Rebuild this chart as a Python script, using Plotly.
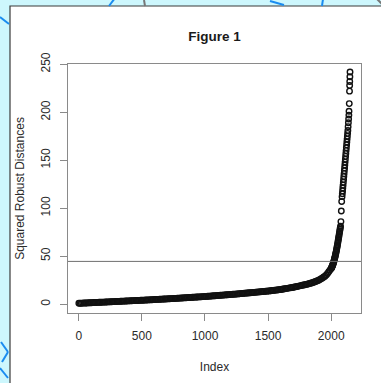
import plotly.graph_objects as go

# ---- data ----
body_index = list(range(1, 2000, 10))
body_values = [
    0.80, 0.87, 0.93, 1.00, 1.06, 1.12, 1.19, 1.25, 1.32, 1.38, 1.44, 1.51, 1.57, 1.63, 1.70, 1.76, 1.83, 1.89, 1.95, 2.02, 2.08, 2.14, 2.21, 2.27, 2.34,
    2.40, 2.46, 2.53, 2.59, 2.66, 2.72, 2.78, 2.85, 2.91, 2.98, 3.04, 3.10, 3.17, 3.23, 3.30, 3.36, 3.42, 3.49, 3.55, 3.62, 3.68, 3.74, 3.81, 3.87, 3.94,
    4.00, 4.07, 4.14, 4.22, 4.29, 4.36, 4.43, 4.50, 4.58, 4.65, 4.72, 4.79, 4.86, 4.94, 5.01, 5.08, 5.15, 5.22, 5.30, 5.37, 5.44, 5.51, 5.58, 5.66, 5.73,
    5.80, 5.88, 5.97, 6.05, 6.14, 6.22, 6.30, 6.39, 6.47, 6.56, 6.64, 6.72, 6.81, 6.89, 6.98, 7.06, 7.14, 7.23, 7.31, 7.40, 7.48, 7.56, 7.65, 7.73, 7.82,
    7.90, 8.00, 8.11, 8.21, 8.32, 8.42, 8.52, 8.63, 8.73, 8.84, 8.94, 9.04, 9.15, 9.25, 9.36, 9.46, 9.56, 9.67, 9.77, 9.88, 9.98, 10.08, 10.19, 10.29, 10.40,
    10.50, 10.62, 10.75, 10.87, 11.00, 11.12, 11.24, 11.37, 11.49, 11.62, 11.74, 11.86, 11.99, 12.11, 12.24, 12.36, 12.48, 12.61, 12.73, 12.86, 12.98, 13.10, 13.23, 13.35, 13.48,
    13.60, 13.76, 13.92, 14.08, 14.24, 14.40, 14.56, 14.72, 14.88, 15.04,
    15.20, 15.44, 15.68, 15.92, 16.16, 16.40, 16.64, 16.88, 17.12, 17.36,
    17.60, 17.88, 18.16, 18.44, 18.72, 19.00, 19.28, 19.56, 19.84, 20.12,
    20.40, 20.78, 21.16, 21.54, 21.92,
    22.30, 22.80, 23.30, 23.80, 24.30,
    24.80, 25.60, 26.50, 27.30, 28.20,
    29.00, 30.40, 32.00, 33.80, 35.60,
]

tail_index = [
    2000, 2002, 2004, 2006, 2008, 2010, 2012, 2014, 2016, 2018, 2020, 2022, 2024, 2026, 2028, 2030,
    2032, 2034, 2036, 2038, 2040, 2042, 2044, 2046, 2048, 2050, 2052, 2054, 2056, 2058, 2060, 2062,
    2064, 2066, 2068, 2070, 2072, 2074, 2077, 2080, 2083,
    2086, 2088, 2090, 2092, 2094, 2096, 2098, 2100, 2102, 2104, 2106, 2108, 2110, 2112, 2114, 2116,
    2118, 2120, 2122, 2124, 2126, 2128, 2130, 2132, 2134, 2136, 2138, 2140, 2141,
    2143, 2145, 2146, 2147, 2148, 2149,
]
tail_values = [
    37.0, 37.6, 38.2, 38.8, 39.4, 40.0, 40.8, 41.6, 42.4, 43.2, 44.0, 45.0, 46.0, 47.0, 48.0, 49.0,
    50.2, 51.4, 52.6, 53.8, 55.0, 56.4, 57.8, 59.2, 60.6, 62.0, 63.6, 65.2, 66.8, 68.4, 70.0, 71.6,
    73.2, 74.8, 76.4, 78.0, 79.6, 81.2, 86.0, 97.0, 107.0,
    112, 115, 118, 121, 124, 127, 130, 133, 136, 139, 142, 145, 148, 151, 154, 157,
    160, 163, 166, 169, 172, 175, 178, 181, 185, 189, 193, 197, 201,
    209, 222, 228, 232, 237, 242,
]

cutoff = 44.5
x_ticks = [0, 500, 1000, 1500, 2000]
y_ticks = [0, 50, 100, 150, 200, 250]

# ---- layout helpers (pixel -> paper) ----
W, H = 381, 383
L, R, T, B = 68, 361, 64, 313


def px(x):
    return (x - L) / (R - L)


def py(y):
    return (B - y) / (B - T)


fig = go.Figure()
fig.add_trace(go.Scatter(
    x=body_index + tail_index,
    y=body_values + tail_values,
    mode="markers",
    marker=dict(symbol="circle-open", size=5.5, color="#111111", line=dict(width=1.4)),
    hoverinfo="x+y",
    showlegend=False,
))

shapes = []
# white panel of the screenshot
shapes.append(dict(type="rect", xref="paper", yref="paper",
                   x0=px(10), x1=px(384), y0=py(386), y1=py(6),
                   fillcolor="white", line=dict(color="#3a3a3a", width=1.2), layer="below"))
# decorative strokes in the background
for (x0, y0, x1, y1) in [(0, 17, 9, 24), (109, 6, 115, -2), (270, 1, 284, 5), (323, -1, 322, 6),
                         (1, 342, 8, 352), (8, 352, 2, 362), (0, 368, 8, 378)]:
    shapes.append(dict(type="line", xref="paper", yref="paper",
                       x0=px(x0), y0=py(y0), x1=px(x1), y1=py(y1),
                       line=dict(color="#1a8cf0", width=2), layer="below"))
for (x0, y0, x1, y1) in [(144, 0, 145, 6), (377, -1, 382, 4)]:
    shapes.append(dict(type="line", xref="paper", yref="paper",
                       x0=px(x0), y0=py(y0), x1=px(x1), y1=py(y1),
                       line=dict(color="#777777", width=2), layer="below"))
# cutoff line
shapes.append(dict(type="line", xref="paper", yref="y", x0=0, x1=1, y0=cutoff, y1=cutoff,
                   line=dict(color="#6e6e6e", width=1)))

font_family = "Liberation Sans, Arial, sans-serif"
fig.update_layout(
    width=W, height=H,
    margin=dict(l=L, r=W - R, t=T, b=H - B),
    paper_bgcolor="#cdf7fd",
    plot_bgcolor="white",
    font=dict(family=font_family, size=12, color="#2a2a2a"),
    title=dict(text="<b>Figure 1</b>", x=0.5, xref="paper", y=1 - 36 / H, yanchor="middle",
               font=dict(size=13.5, color="#1a1a1a")),
    shapes=shapes,
)
fig.update_xaxes(
    range=[-85, 2236], tickvals=x_ticks, ticktext=[str(v) for v in x_ticks],
    showgrid=False, zeroline=False, showline=True, mirror=True, linecolor="#8a8a8a", linewidth=1,
    ticks="outside", ticklen=7, tickcolor="#8a8a8a", tickfont=dict(size=12),
    ticklabelstandoff=5,
    title=dict(text="Index", font=dict(size=12), standoff=20),
)
fig.update_yaxes(
    range=[-9.3, 250.3], tickvals=y_ticks, ticktext=[str(v) for v in y_ticks],
    showgrid=False, zeroline=False, showline=True, mirror=True, linecolor="#8a8a8a", linewidth=1,
    ticks="outside", ticklen=7, tickcolor="#8a8a8a", tickangle=-90, tickfont=dict(size=12),
    ticklabelstandoff=5,
    title=dict(text="Squared Robust Distances", font=dict(size=12), standoff=12),
)

fig.write_html("out.html")
